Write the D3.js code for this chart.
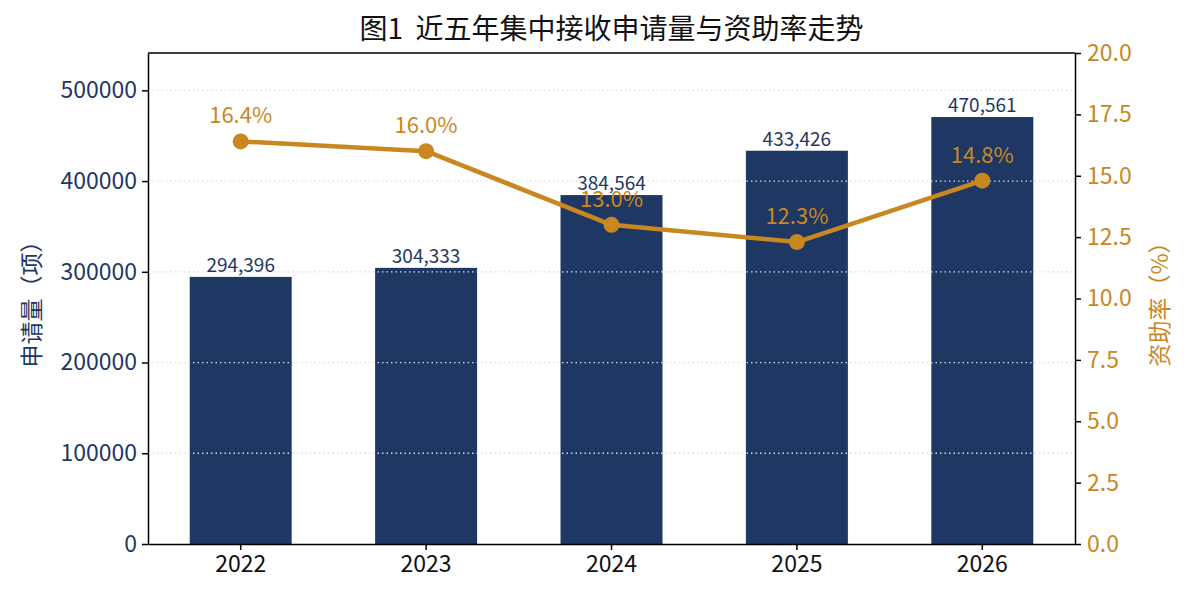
<!DOCTYPE html>
<html>
<head>
<meta charset="utf-8">
<script src="https://cdn.jsdelivr.net/npm/d3@7"></script>
<style>
  body { margin: 0; background: #fff; }
  text { font-family: "Noto Sans CJK SC", "Noto Sans", sans-serif; }
</style>
</head>
<body>
<script>
var width = 1191;
var height = 603;
var margin = {top: 53, right: 116, bottom: 59, left: 148};

var NAVY = "#1f3763";
var ORANGE = "#c9871f";
var TICK_FONT = "23px";

// data
var years = ["2022", "2023", "2024", "2025", "2026"];
var applications = [294396, 304333, 384564, 433426, 470561];
var fundingRate = [16.4, 16.0, 13.0, 12.3, 14.8];
var leftTicks = [0, 100000, 200000, 300000, 400000, 500000];
var rightTicks = [0, 2.5, 5, 7.5, 10, 12.5, 15, 17.5, 20];

var rows = years.map((y, i) => ({year: y, app: applications[i], rate: fundingRate[i]}));

var svg = d3.select("body")
            .append("svg")
            .attr("width", width)
            .attr("height", height);

var plotW = width - margin.left - margin.right;
var plotH = height - margin.top - margin.bottom;

var g = svg.append("g").attr("transform", `translate(${margin.left},${margin.top})`);

// band with 0.55 bar width inside each slot
var x = d3.scaleBand()
          .domain(years)
          .range([0, plotW])
          .paddingInner(0.45)
          .paddingOuter(0.225);

var yLeft = d3.scaleLinear()
              .domain([0, d3.max(applications) * 1.15])
              .range([plotH, 0]);

var yRight = d3.scaleLinear()
               .domain([0, 20])
               .range([plotH, 0]);

// bars
g.selectAll("rect.bar")
  .data(rows)
  .enter()
  .append("rect")
  .attr("class", "bar")
  .attr("x", d => x(d.year))
  .attr("y", d => yLeft(d.app))
  .attr("width", x.bandwidth())
  .attr("height", d => plotH - yLeft(d.app))
  .attr("fill", NAVY);

// grid over the bars
g.selectAll("line.grid")
  .data(leftTicks.filter(t => t > 0))
  .enter()
  .append("line")
  .attr("class", "grid")
  .attr("x1", 0)
  .attr("x2", plotW)
  .attr("y1", d => yLeft(d))
  .attr("y2", d => yLeft(d))
  .attr("stroke", "#dcdcdc")
  .attr("stroke-width", 1.3)
  .attr("stroke-dasharray", "1.5,3");

// bar value labels
g.selectAll("text.barlab")
  .data(rows)
  .enter()
  .append("text")
  .attr("x", d => x(d.year) + x.bandwidth() / 2)
  .attr("y", d => yLeft(d.app) - 5)
  .attr("text-anchor", "middle")
  .attr("font-size", "19px")
  .attr("fill", NAVY)
  .text(d => d3.format(",")(d.app));

// rate line
var cx = d => x(d.year) + x.bandwidth() / 2;
var line = d3.line().x(cx).y(d => yRight(d.rate));

g.append("path")
  .datum(rows)
  .attr("d", line)
  .attr("fill", "none")
  .attr("stroke", ORANGE)
  .attr("stroke-width", 4.5)
  .attr("stroke-linejoin", "round");

g.selectAll("circle.pt")
  .data(rows)
  .enter()
  .append("circle")
  .attr("cx", cx)
  .attr("cy", d => yRight(d.rate))
  .attr("r", 8)
  .attr("fill", ORANGE);

g.selectAll("text.ratelab")
  .data(rows)
  .enter()
  .append("text")
  .attr("x", cx)
  .attr("y", d => yRight(d.rate) - 18)
  .attr("text-anchor", "middle")
  .attr("font-size", "22px")
  .attr("fill", ORANGE)
  .text(d => d.rate.toFixed(1) + "%");

// frame top
g.append("line").attr("x1", 0).attr("x2", plotW).attr("y1", 0).attr("y2", 0)
  .attr("stroke", "black").attr("stroke-width", 1.5);

// axes
var axLeft = g.append("g")
  .call(d3.axisLeft(yLeft).tickValues(leftTicks).tickSizeInner(6).tickSizeOuter(0)
          .tickPadding(5).tickFormat(d3.format("d")));
axLeft.selectAll("text").attr("font-size", TICK_FONT).attr("fill", NAVY)
  .attr("font-family", "'Noto Sans CJK SC', sans-serif");

var axRight = g.append("g")
  .attr("transform", `translate(${plotW},0)`)
  .call(d3.axisRight(yRight).tickValues(rightTicks).tickSizeInner(6).tickSizeOuter(0)
          .tickPadding(6).tickFormat(d3.format(".1f")));
axRight.selectAll("text").attr("font-size", TICK_FONT).attr("fill", ORANGE)
  .attr("font-family", "'Noto Sans CJK SC', sans-serif");

var axBottom = g.append("g")
  .attr("transform", `translate(0,${plotH})`)
  .call(d3.axisBottom(x).tickSizeInner(6).tickSizeOuter(0).tickPadding(6));
axBottom.selectAll("text").attr("font-size", TICK_FONT).attr("fill", "#111")
  .attr("font-family", "'Noto Sans CJK SC', sans-serif");

[axLeft, axRight, axBottom].forEach(a => {
  a.select(".domain").attr("stroke", "black").attr("stroke-width", 1.5);
  a.selectAll(".tick line").attr("stroke", "black").attr("stroke-width", 1.5);
});

// axis titles
svg.append("text")
   .attr("transform", `translate(40,${margin.top + plotH / 2}) rotate(-90)`)
   .attr("text-anchor", "middle")
   .attr("font-size", "23px")
   .attr("fill", NAVY)
   .text("申请量（项）");

svg.append("text")
   .attr("transform", `translate(1168,${margin.top + plotH / 2}) rotate(-90)`)
   .attr("text-anchor", "middle")
   .attr("font-size", "23px")
   .attr("fill", ORANGE)
   .text("资助率（%）");

// title
svg.append("text")
   .attr("x", margin.left + plotW / 2)
   .attr("y", 39)
   .attr("text-anchor", "middle")
   .attr("font-size", "28px")
   .attr("fill", "#111")
   .style("white-space", "pre")
   .text("图1  近五年集中接收申请量与资助率走势");
</script>
</body>
</html>
